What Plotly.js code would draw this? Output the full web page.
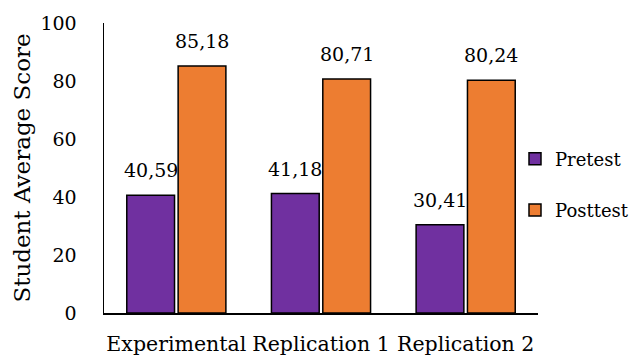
<!DOCTYPE html>
<html>
<head>
<meta charset="utf-8">
<script src="https://cdn.plot.ly/plotly-3.0.1.min.js"></script>
<style>
  html, body { margin: 0; padding: 0; background: #fff; }
  #chart { width: 630px; height: 357px; }
</style>
</head>
<body>
<div id="chart"></div>
<script>
// Average scores per group, pretest vs posttest
const groups = ['Experimental', 'Replication 1', 'Replication 2'];
const pretest = [40.59, 41.18, 30.41];
const posttest = [85.18, 80.71, 80.24];
const seriesNames = ['Pretest', 'Posttest'];
const yTicks = [0, 20, 40, 60, 80, 100];

const W = 630, H = 357;
const margin = { l: 104, r: 92, t: 23, b: 44, pad: 0, autoexpand: false };
const bargap = 0.29;
const serif = 'DejaVu Serif, serif';

// decimal comma labels
const fmt = v => v.toFixed(2).replace('.', ',');

const barLine = { color: '#000', width: 1.5 };
const traces = [
  {
    type: 'bar', name: seriesNames[0], x: groups, y: pretest,
    marker: { color: '#7030A0', line: barLine },
    legendgroup: 'a', hoverinfo: 'none'
  },
  {
    type: 'bar', name: seriesNames[1], x: groups, y: posttest,
    marker: { color: '#ED7D31', line: barLine },
    legendgroup: 'b', hoverinfo: 'none'
  }
];

// value labels sit above each bar, offset to the bar's slot within its group
const plotW = W - margin.l - margin.r;
const slotHalf = plotW / groups.length * (1 - bargap) / 4;
const annotations = [];
[pretest, posttest].forEach((vals, si) => {
  vals.forEach((v, i) => {
    annotations.push({
      xref: 'x', yref: 'y', x: groups[i], y: v,
      xshift: si === 0 ? -slotHalf : slotHalf, yshift: 12,
      yanchor: 'bottom', xanchor: 'center',
      text: fmt(v), showarrow: false,
      font: { family: serif, size: 19, color: '#000' }
    });
  });
});

const layout = {
  width: W, height: H, margin: margin,
  paper_bgcolor: '#fff', plot_bgcolor: '#fff',
  barmode: 'group', bargap: bargap, bargroupgap: 0.07,
  font: { family: serif, color: '#000' },
  showlegend: true,
  legend: {
    x: 0.947, xanchor: 'left', y: 0.595, yanchor: 'top',
    traceorder: 'grouped', tracegroupgap: 25,
    font: { family: serif, size: 18, color: '#000' },
    bgcolor: 'rgba(0,0,0,0)'
  },
  xaxis: {
    type: 'category', showgrid: false, zeroline: false,
    showline: true, linecolor: '#000', linewidth: 1.5,
    ticks: '', tickangle: 0, ticklabelstandoff: 12,
    tickfont: { family: serif, size: 20.5, color: '#000' },
    fixedrange: true
  },
  yaxis: {
    range: [0, 100], tickvals: yTicks, ticktext: yTicks.map(String),
    showgrid: false, zeroline: false,
    showline: true, linecolor: '#000', linewidth: 1.5,
    ticks: '', ticklabelstandoff: 22,
    tickfont: { family: serif, size: 19, color: '#000' },
    title: { text: 'Student Average Score', standoff: 3,
             font: { family: serif, size: 23, color: '#000' } },
    fixedrange: true
  },
  annotations: annotations
};

Plotly.newPlot('chart', traces, layout, { staticPlot: true, displayModeBar: false });
</script>
</body>
</html>
